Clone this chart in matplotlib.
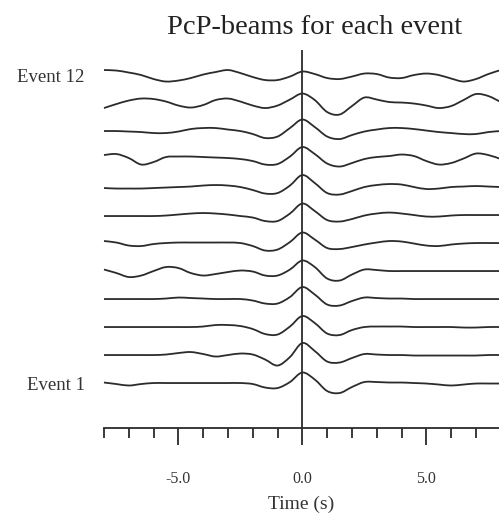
import numpy as np
import matplotlib
matplotlib.use("Agg")
import matplotlib.pyplot as plt
from matplotlib.path import Path
from matplotlib.patches import PathPatch
from matplotlib.ticker import MultipleLocator, FixedLocator

plt.rcParams['font.family'] = ['Liberation Serif', 'DejaVu Serif']

# beam samples every 0.5 s, relative to the PcP arrival
time = np.arange(-8.0, 8.01, 0.5)

ev1 = [0.5, -1, -2.5, -1, 0, 0, 0, 0, 0, 0, 0, 0, -1, -4.5, -5, 1, 10.5,
       3.5, -8, -10, -4, 1, 1, 0.5, 0.5, 0, -0.5, -1.5, -2.5, -1.5, -0.5, -0.5, -0.5]
ev2 = [0, 0, 0, 0, 0, 0.5, 2, 3, 1, -1.5, 0, 1.5, 0.5, -4.5, -10.5, -2, 12,
       4, -6.5, -7.5, -3, 1, 0.5, 0, 0, -0.5, -0.5, -0.5, -0.5, -0.5, -0.5, 0, 0]
ev3 = [0, 0, 0, 0, 0, 0, 0, 0, 0.5, 2, 2, 1, -2, -7, -7.5, 0.5, 11,
       4, -6.5, -8, -3, 0, 0.5, 0.5, 0.5, 0, 0, 0, 0, -0.5, -0.5, 0, 0]
ev4 = [0, 0, 0, 0, 0, 0.5, 1.5, 1, 0.5, 0, 0, 0, -1.5, -4.5, -4.5, 2, 12,
       4.5, -5.5, -6.5, -2, 1.5, 1, 0.5, 0.5, 0, 0, 0, 0, 0, 0, 0, 0]
ev5 = [1.5, -2, -6, -4.5, 0, 4, 3, -2, -4.5, -3, -1, 0.5, -0.5, -4.5, -4.5, 1.5, 10.5,
       4, -7.5, -9.5, -3.5, 1.5, 1, 0, 0, 0, 0, 0, 0, 0, 0, 0, 0]
ev6 = [2, 0.5, -2.5, -3, -1, 0, 0.5, 0.5, 0.5, 0.5, 0.5, 0, -3, -7.5, -6.5, 1, 10.5,
       3.5, -5, -6, -4, -1.5, 0.5, 2, 1.5, -0.5, -2.5, -3, -1.5, -0.5, 0, 0, 0]
ev7 = [-1, -1, -1, -1, -1, -0.5, 0.5, 1.5, 2, 1.5, 0.5, -1, -2.5, -6, -6, 1.5, 11.5,
       4, -5, -6.5, -4, -0.5, 1.5, 2.5, 1.5, 0, -1.5, -1.5, -0.5, 0, 0, 0, 0]
ev8 = [-1, -1.5, -1.5, -1.5, -1, -0.5, 0, 0.5, 1.5, 2, 1.5, 0, -3, -6.5, -6, 1.5, 12,
       4, -6, -7.5, -4, 0, 2, 3, 2.5, 0, -2, -1.5, 0, 0.5, 1, 0.5, 0]
ev9 = [4, 5, 1, -5.5, -3, 2, 2.5, 2.5, 2, 1.5, 1, 0, -2, -5.5, -5, 2.5, 12,
       5, -4.5, -7.5, -4, 0, 2, 3, 4.5, 3, -2, -5.5, -4, 0.5, 5.5, 4, 0]
ev10 = [0, 0, -0.5, -1, -2, -2, -0.5, 2, 3, 3, 1.5, 0, -3, -7, -5.5, 3, 11.5,
        4, -5.5, -8, -4, -0.5, 1.5, 3, 3, 2, 0.5, -1, -2, -3, -3, -1, 0]
ev11 = [-5, -1, 2.5, 4.5, 4, 1.5, -2.5, -4.5, -2, 3, 4.5, 1.5, -2.5, -5, -2.5, 3.5, 9.5,
        3, -9, -11.5, -3, 5.5, 3.5, 1, 0.5, -0.5, -2.5, -5, -3, 3, 9, 7, 1]
ev12 = [5, 4.5, 2.5, 0, -4, -6.5, -5.5, -3, 0.5, 3, 5, 2, -2, -5, -5, -1.5, 3.5,
        1, -3, -4, -1.5, 1.5, 1, -2.5, -3, 0, 1.5, 0, -3.5, -6.5, -4, 1, 5]

beams = [ev1, ev2, ev3, ev4, ev5, ev6, ev7, ev8, ev9, ev10, ev11, ev12]
spacing = 28.0
event_labels = ['Event 1', 'Event 12']

ink = '#2b2b2b'


def smooth_path(x, y):
    # cubic segments through every sample (Catmull-Rom tangents)
    pts = np.column_stack([x, y])
    ext = np.vstack([pts[0], pts, pts[-1]])
    verts = [pts[0]]
    codes = [Path.MOVETO]
    for k in range(len(pts) - 1):
        p0, p1, p2, p3 = ext[k], ext[k + 1], ext[k + 2], ext[k + 3]
        verts += [p1 + (p2 - p0) / 6, p2 - (p3 - p1) / 6, p2]
        codes += [Path.CURVE4] * 3
    return Path(verts, codes)


fig = plt.figure(figsize=(4.99, 5.17), dpi=100)
ax = fig.add_axes([0.2084, 0.1721, 0.7916, 0.7311])

for i, beam in enumerate(beams):
    path = smooth_path(time, np.array(beam) + (i + 1) * spacing)
    ax.add_patch(PathPatch(path, fill=False, edgecolor=ink, lw=1.3,
                           joinstyle='round', clip_on=False))

ax.axvline(0, color=ink, lw=1.3)

ax.set_xlim(-8, 7.93)
ax.set_ylim(-17, 361)

for side in ['top', 'right', 'left']:
    ax.spines[side].set_visible(False)
ax.spines['bottom'].set_color(ink)
ax.spines['bottom'].set_linewidth(1.3)

ax.xaxis.set_major_locator(FixedLocator([-5, 0, 5]))
ax.xaxis.set_minor_locator(MultipleLocator(1))
ax.set_xticklabels(['-5.0', '0.0', '5.0'])
ax.tick_params(axis='x', which='major', length=12, width=1.3, color=ink,
               labelsize=11.5, labelcolor='#333333', pad=19)
ax.tick_params(axis='x', which='minor', length=7, width=1.3, color=ink)

ax.set_yticks([spacing, 12 * spacing])
ax.set_yticklabels(event_labels)
ax.tick_params(axis='y', length=0, pad=14, labelsize=13.5, labelcolor='#333333')

ax.set_xlabel('Time (s)', fontsize=14, color='#333333', labelpad=6)
fig.text(0.63, 0.946, 'PcP-beams for each event', ha='center', va='center',
         fontsize=20.5, color='#222222')

fig.savefig('out.png', dpi=100)
